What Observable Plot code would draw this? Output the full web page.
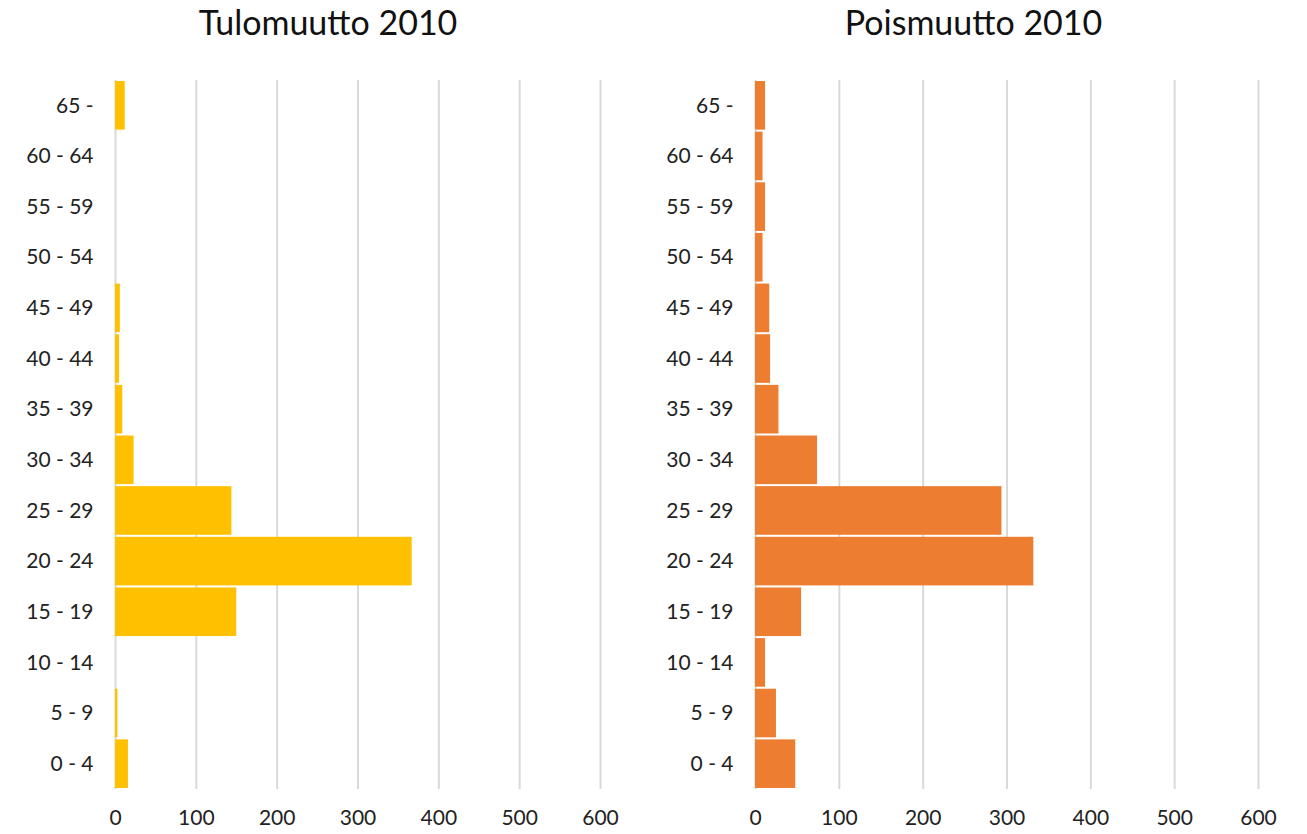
<!DOCTYPE html>
<html>
<head>
<meta charset="utf-8">
<script src="https://cdn.jsdelivr.net/npm/d3@7"></script>
<script src="https://cdn.jsdelivr.net/npm/@observablehq/plot@0.6"></script>
<style>
  html, body { margin: 0; padding: 0; background: #fff; }
  #wrap { position: relative; width: 1307px; height: 834px; font-family: Lato, "Open Sans", sans-serif; }
  .panel { position: absolute; top: 0; }
  .title { position: absolute; top: 1px; font-size: 34px; color: #111; text-align: center; }
  .chart { position: absolute; top: 60px; left: 0; }
</style>
</head>
<body>
<div id="wrap"></div>
<script>
// Age groups, bottom to top as in the chart
const ageGroups = ["0 - 4", "5 - 9", "10 - 14", "15 - 19", "20 - 24", "25 - 29", "30 - 34",
  "35 - 39", "40 - 44", "45 - 49", "50 - 54", "55 - 59", "60 - 64", "65 -"];
// Tulomuutto 2010 (in-migration)
const tulomuutto = [16, 3, 0, 150, 367, 144, 23, 9, 5, 6, 0, 0, 0, 12];
// Poismuutto 2010 (out-migration)
const poismuutto = [48, 25, 12, 55, 332, 294, 74, 28, 18, 17, 9, 12, 9, 12];
const xTicks = [0, 100, 200, 300, 400, 500, 600];
const titles = ["Tulomuutto 2010", "Poismuutto 2010"];
const colors = ["#FFC000", "#ED7D31"];

function panel(title, values, color, left, width, rangeEnd) {
  const data = ageGroups.map((a, i) => ({age: a, value: values[i]}));
  const div = document.createElement("div");
  div.className = "panel";
  div.style.left = left + "px";
  div.style.width = width + "px";
  div.style.height = "834px";
  const t = document.createElement("div");
  t.className = "title";
  t.style.left = "0px";
  t.style.width = width + "px";
  t.textContent = title;
  div.appendChild(t);
  const chart = Plot.plot({
    width,
    height: 774,
    marginLeft: 115,
    marginRight: width - rangeEnd,
    marginTop: 20,
    marginBottom: 45,
    style: {fontFamily: "Lato, 'Open Sans', sans-serif", fontSize: "21px", color: "#222", background: "transparent"},
    x: {domain: [0, 600], ticks: xTicks, tickSize: 0, tickPadding: 21, label: null, tickFormat: d3.format("d")},
    y: {domain: ageGroups.slice().reverse(), tickSize: 0, tickPadding: 22, label: null, paddingInner: 0.04, paddingOuter: 0.02, round: false},
    marks: [
      Plot.gridX(xTicks, {stroke: "#d9d9d9", strokeOpacity: 1, strokeWidth: 2}),
      Plot.barX(data, {x: "value", y: "age", fill: color})
    ]
  });
  chart.classList.add("chart");
  div.appendChild(chart);
  document.getElementById("wrap").appendChild(div);
}

panel(titles[0], tulomuutto, colors[0], 0, 656, 600);
panel(titles[1], poismuutto, colors[1], 640, 667, 618);
</script>
</body>
</html>
